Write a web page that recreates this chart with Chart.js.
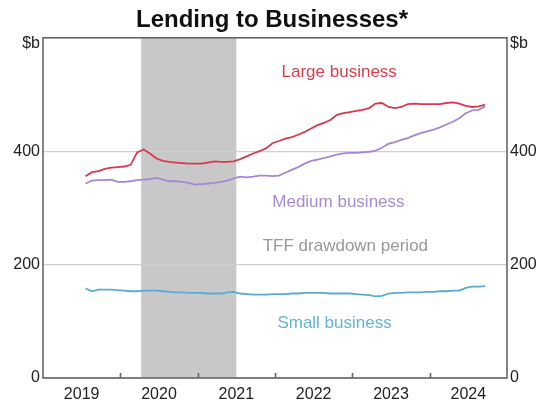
<!DOCTYPE html>
<html>
<head>
<meta charset="utf-8">
<script src="https://cdn.jsdelivr.net/npm/chart.js@4.4.1/dist/chart.umd.min.js"></script>
<style>
    html, body { margin: 0; padding: 0; background: #fff; }
    #wrap { width: 544px; height: 403px; position: relative; }
</style>
</head>
<body>
<div id="wrap"><canvas id="chart"></canvas></div>
<script>
// monthly, Jul 2019 .. Sep 2024
const firstYear = 2019;
const firstMonth = 7;
const yearLabels = [2019, 2020, 2021, 2022, 2023, 2024];
const yTicks = [0, 200, 400];
// the unit label sits just under the top of the axis
const unitTick = 589;

const largeBusiness = [
    356, 363, 365, 369, 371, 372, 373, 376, 398, 403, 396, 387,
    383, 381, 380, 379, 378, 378, 378, 380, 382, 381, 381, 382,
    386, 391, 396, 400, 405, 414, 418, 422, 425, 429, 434, 440,
    446, 450, 455, 464, 467, 469, 471, 473, 476, 484, 485, 478,
    476, 478, 483, 484, 483, 483, 483, 483, 485, 486, 484, 480,
    478, 479, 482
];
const mediumBusiness = [
    343, 348, 349, 349, 350, 346, 346, 347, 349, 350, 351, 353,
    350, 347, 347, 346, 344, 341, 342, 343, 344, 346, 348, 352,
    355, 354, 355, 357, 357, 356, 357, 362, 367, 372, 378, 383,
    385, 388, 391, 394, 396, 397, 397, 398, 399, 401, 406, 413,
    416, 420, 423, 428, 432, 435, 438, 442, 447, 452, 458, 467,
    472, 473, 479
];
const smallBusiness = [
    158, 153, 156, 156, 156, 155, 154, 153, 153, 154, 154, 154,
    153, 152, 151, 151, 150, 150, 150, 149, 149, 149, 151, 152,
    149, 148, 147, 147, 147, 148, 148, 148, 149, 149, 150, 150,
    150, 150, 149, 149, 149, 149, 148, 147, 146, 144, 145, 149,
    150, 150, 151, 151, 151, 152, 152, 153, 153, 154, 154, 159,
    161, 161, 162
];

// TFF drawdown period, in decimal years
const tffStart = 2020.27;
const tffEnd = 2021.5;

const seriesLabels = [
    { text: 'Large business', x: 2022.83, y: 540, color: '#d8424f' },
    { text: 'Medium business', x: 2022.82, y: 309, color: '#a68cd6' },
    { text: 'TFF drawdown period', x: 2022.91, y: 233, color: '#999999' },
    { text: 'Small business', x: 2022.77, y: 97, color: '#62b4d8' }
];

function toPoints(values) {
    return values.map((v, i) => {
        const m = firstMonth - 1 + i;
        return { x: firstYear + Math.floor(m / 12) + ((m % 12) + 0.6) / 12, y: v };
    });
}

const FONT = 'Arial, "Liberation Sans", sans-serif';

const decorations = {
    id: 'decorations',
    beforeDraw(chart) {
        const { ctx, chartArea: a, scales } = chart;
        const x0 = scales.x.getPixelForValue(tffStart);
        const x1 = scales.x.getPixelForValue(tffEnd);
        ctx.save();
        ctx.fillStyle = '#c8c8c8';
        ctx.fillRect(x0, a.top, x1 - x0, a.bottom - a.top);
        ctx.restore();
    },
    afterDatasetsDraw(chart) {
        const { ctx, chartArea: a, scales } = chart;
        ctx.save();
        // series labels
        ctx.font = '17px ' + FONT;
        ctx.textAlign = 'center';
        ctx.textBaseline = 'middle';
        seriesLabels.forEach(l => {
            ctx.fillStyle = l.color;
            ctx.fillText(l.text, scales.x.getPixelForValue(l.x), scales.y.getPixelForValue(l.y));
        });
        // frame
        ctx.strokeStyle = '#666';
        ctx.lineWidth = 1.6;
        ctx.strokeRect(a.left, a.top, a.right - a.left, a.bottom - a.top);
        // inward year ticks
        ctx.beginPath();
        for (let yr = yearLabels[1]; yr <= yearLabels[yearLabels.length - 1]; yr++) {
            const px = Math.round(scales.x.getPixelForValue(yr)) + 0.5;
            ctx.moveTo(px, a.bottom);
            ctx.lineTo(px, a.bottom - 5);
        }
        ctx.stroke();
        ctx.restore();
    }
};

const yTickCallback = v => (v === unitTick ? '$b' : v);
const buildYTicks = axis => {
    axis.ticks = yTicks.concat([unitTick]).map(v => ({ value: v }));
};

new Chart(document.getElementById('chart'), {
    type: 'line',
    data: {
        datasets: [
            { label: 'Large business', data: toPoints(largeBusiness), borderColor: '#d83a4c' },
            { label: 'Medium business', data: toPoints(mediumBusiness), borderColor: '#a587d8' },
            { label: 'Small business', data: toPoints(smallBusiness), borderColor: '#58acd4' }
        ]
    },
    options: {
        responsive: true,
        maintainAspectRatio: false,
        animation: false,
        layout: { padding: 0 },
        elements: {
            point: { radius: 0 },
            line: { borderWidth: 1.8, tension: 0 }
        },
        plugins: {
            legend: { display: false },
            tooltip: { enabled: false },
            title: {
                display: true,
                text: 'Lending to Businesses*',
                color: '#111',
                font: { family: FONT, size: 24, weight: 'bold', lineHeight: 1.2 },
                padding: { top: 6, bottom: 3 }
            }
        },
        scales: {
            x: {
                type: 'linear',
                min: 2019,
                max: 2025,
                afterBuildTicks: axis => {
                    axis.ticks = yearLabels.map(y => ({ value: y + 0.5 }));
                },
                afterFit: axis => { axis.height = 25; },
                grid: { display: false, drawTicks: false },
                border: { display: false },
                ticks: {
                    callback: v => Math.floor(v),
                    color: '#222',
                    font: { family: FONT, size: 16 },
                    padding: 7,
                    maxRotation: 0,
                    autoSkip: false
                }
            },
            y: {
                position: 'left',
                min: 0,
                max: 600,
                afterBuildTicks: buildYTicks,
                afterFit: axis => { axis.width = 43; },
                grid: {
                    color: c => (c.tick && c.tick.value === unitTick ? 'rgba(0,0,0,0)' : '#cfcfcf'),
                    lineWidth: 1.2,
                    drawTicks: false
                },
                border: { display: false },
                ticks: {
                    callback: yTickCallback,
                    color: '#222',
                    font: { family: FONT, size: 16 },
                    padding: 3
                }
            },
            y2: {
                position: 'right',
                min: 0,
                max: 600,
                afterBuildTicks: buildYTicks,
                afterFit: axis => { axis.width = 37; },
                grid: { display: false, drawTicks: false },
                border: { display: false },
                ticks: {
                    callback: yTickCallback,
                    color: '#222',
                    font: { family: FONT, size: 16 },
                    padding: 3
                }
            }
        }
    },
    plugins: [decorations]
});
</script>
</body>
</html>
